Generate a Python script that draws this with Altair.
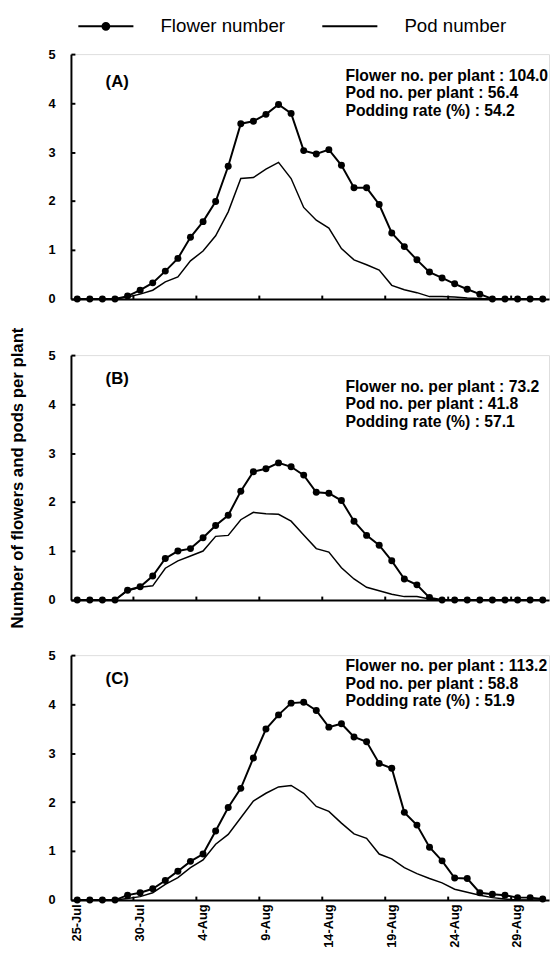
import altair as alt
import pandas as pd

FONT = "Liberation Sans"

dates = ["25-Jul", "26-Jul", "27-Jul", "28-Jul", "29-Jul", "30-Jul", "31-Jul",
         "1-Aug", "2-Aug", "3-Aug", "4-Aug", "5-Aug", "6-Aug", "7-Aug", "8-Aug",
         "9-Aug", "10-Aug", "11-Aug", "12-Aug", "13-Aug", "14-Aug", "15-Aug",
         "16-Aug", "17-Aug", "18-Aug", "19-Aug", "20-Aug", "21-Aug", "22-Aug",
         "23-Aug", "24-Aug", "25-Aug", "26-Aug", "27-Aug", "28-Aug", "29-Aug",
         "30-Aug", "31-Aug"]

x_label_values = ["25-Jul", "30-Jul", "4-Aug", "9-Aug", "14-Aug", "19-Aug", "24-Aug", "29-Aug"]
x_tick_values = ["30-Jul", "4-Aug", "9-Aug", "14-Aug", "19-Aug", "24-Aug", "29-Aug"]
y_values = [0, 1, 2, 3, 4, 5]

flower_A = [0, 0, 0, 0, 0.06, 0.18, 0.33, 0.57, 0.83, 1.26, 1.58, 1.99, 2.71, 3.58, 3.63, 3.77,
            3.97, 3.79, 3.03, 2.96, 3.05, 2.73, 2.27, 2.27, 1.93, 1.35, 1.07, 0.80, 0.55, 0.43,
            0.31, 0.20, 0.10, 0, 0, 0, 0, 0]
pod_A = [0, 0, 0, 0, 0.04, 0.10, 0.18, 0.35, 0.45, 0.78, 0.98, 1.29, 1.78, 2.46, 2.48, 2.65,
         2.79, 2.46, 1.87, 1.61, 1.45, 1.03, 0.80, 0.70, 0.59, 0.28, 0.19, 0.13, 0.05, 0.05,
         0.04, 0.02, 0.01, 0, 0, 0, 0, 0]

flower_B = [0, 0, 0, 0, 0.20, 0.27, 0.49, 0.85, 1.00, 1.05, 1.27, 1.52, 1.73, 2.22, 2.62, 2.68,
            2.80, 2.72, 2.55, 2.20, 2.18, 2.03, 1.61, 1.32, 1.12, 0.80, 0.43, 0.31, 0.05,
            0, 0, 0, 0, 0, 0, 0, 0, 0]
pod_B = [0, 0, 0, 0, 0.19, 0.26, 0.29, 0.65, 0.80, 0.90, 1.00, 1.30, 1.32, 1.64, 1.79, 1.76,
         1.75, 1.61, 1.33, 1.05, 0.98, 0.66, 0.43, 0.26, 0.19, 0.12, 0.07, 0.07, 0.02,
         0, 0, 0, 0, 0, 0, 0, 0, 0]

flower_C = [0, 0, 0, 0, 0.10, 0.15, 0.23, 0.40, 0.59, 0.79, 0.94, 1.41, 1.89, 2.28, 2.90, 3.49,
            3.78, 4.02, 4.04, 3.87, 3.53, 3.60, 3.33, 3.23, 2.79, 2.69, 1.79, 1.53, 1.08, 0.80,
            0.45, 0.44, 0.15, 0.12, 0.10, 0.05, 0.05, 0.02]
pod_C = [0, 0, 0, 0, 0.03, 0.07, 0.15, 0.32, 0.46, 0.66, 0.82, 1.14, 1.34, 1.68, 2.02, 2.18,
         2.31, 2.34, 2.18, 1.91, 1.81, 1.57, 1.35, 1.26, 0.94, 0.84, 0.66, 0.54, 0.44, 0.35,
         0.22, 0.16, 0.10, 0.05, 0.02, 0, 0, 0]

flowers = [flower_A, flower_B, flower_C]
pods = [pod_A, pod_B, pod_C]

panel_labels = ["(A)", "(B)", "(C)"]
stats = [
    ["Flower no. per plant : 104.0", "Pod no. per plant : 56.4", "Podding rate (%) : 54.2"],
    ["Flower no. per plant : 73.2", "Pod no. per plant : 41.8", "Podding rate (%) : 57.1"],
    ["Flower no. per plant : 113.2", "Pod no. per plant : 58.8", "Podding rate (%) : 51.9"],
]
series_names = ["Flower number", "Pod number"]
y_title = "Number of flowers and pods per plant"

W = 486
H = 249
stats_y = [22, 32, 11]
label_y = [28, 24, 24]

# legend glyphs: a line with a solid dot (built from concentric stroked rings), and a plain line
flower_path = ("M-7,0L7,0"
               "M0.875,0A0.875,0.875,0,1,0,-0.875,0A0.875,0.875,0,1,0,0.875,0"
               "M0.5,0A0.5,0.5,0,1,0,-0.5,0A0.5,0.5,0,1,0,0.5,0"
               "M0.19,0A0.19,0.19,0,1,0,-0.19,0A0.19,0.19,0,1,0,0.19,0")
pod_path = "M-7,0L7,0"


def panel(i, show_xlabels, with_title, with_legend):
    df = pd.DataFrame({"date": dates, "flower": flowers[i], "pod": pods[i]})
    base = alt.Chart(df)
    xscale = alt.Scale(type="band", domain=dates, paddingInner=0, paddingOuter=0)
    yscale = alt.Scale(domain=[0, 5], nice=False)

    x_lab_kw = dict(values=x_label_values, ticks=False, labels=show_xlabels,
                    domain=True, domainColor="black", domainWidth=2, grid=False,
                    orient="bottom", title=None)
    if show_xlabels:
        x_lab_kw.update(labelAngle=-90, labelFontSize=13, labelFontWeight="bold",
                        labelFont=FONT, labelColor="black", labelPadding=4)
    x_lab_axis = alt.Axis(**x_lab_kw)
    x_tick_axis = alt.Axis(values=x_tick_values, bandPosition=0, labels=False, domain=False,
                           ticks=True, tickSize=4, tickWidth=2, tickColor="black",
                           offset=-4, grid=False, orient="bottom", title=None)

    y_lab_kw = dict(values=y_values, ticks=False, labelFontSize=13, labelFontWeight="bold",
                    labelFont=FONT, labelColor="black", labelPadding=16,
                    domainColor="black", domainWidth=2, grid=False, orient="left")
    if with_title:
        y_lab_kw.update(title=y_title, titleFontSize=17, titleFontWeight="bold",
                        titleFont=FONT, titleColor="black", titlePadding=22)
    else:
        y_lab_kw.update(title=None)
    y_lab_axis = alt.Axis(**y_lab_kw)
    y_tick_axis = alt.Axis(values=y_values, labels=False, domain=False, ticks=True,
                           tickSize=4, tickWidth=2, tickColor="black", offset=-4,
                           grid=False, orient="left", title=None)

    pod = base.mark_line(color="black", strokeWidth=1.5).encode(
        x=alt.X("date:N", scale=xscale, axis=x_lab_axis, bandPosition=0.5),
        y=alt.Y("pod:Q", scale=yscale, axis=y_lab_axis),
    )
    flower = base.mark_line(
        color="black", strokeWidth=2,
        point=alt.OverlayMarkDef(filled=True, color="black", size=50, opacity=1),
    ).encode(
        x=alt.X("date:N", scale=xscale, axis=x_tick_axis, bandPosition=0.5),
        y=alt.Y("flower:Q", scale=yscale, axis=y_tick_axis),
    )

    lab = alt.Chart(pd.DataFrame({"label": [panel_labels[i]]})).mark_text(
        font=FONT, fontSize=17, fontWeight="bold", color="black",
        align="center", baseline="middle",
    ).encode(text="label:N", x=alt.value(47), y=alt.value(label_y[i]))

    st = alt.Chart(pd.DataFrame({"k": [0]})).mark_text(
        font=FONT, fontSize=16, fontWeight="bold", color="black",
        align="left", baseline="middle", lineHeight=18,
    ).encode(text=alt.value(stats[i]), x=alt.value(279), y=alt.value(stats_y[i]))

    layers = [pod, flower, lab, st]
    if with_legend:
        leg = alt.Chart(pd.DataFrame({"series": series_names})).mark_point(
            filled=False, opacity=0, size=64, color="black", strokeWidth=2,
        ).encode(
            shape=alt.Shape(
                "series:N",
                scale=alt.Scale(domain=series_names, range=[flower_path, pod_path]),
                legend=alt.Legend(
                    title=None, orient="none", legendX=26, legendY=-38,
                    direction="horizontal", symbolSize=64, symbolStrokeWidth=2,
                    symbolStrokeColor="black", symbolOpacity=1,
                    labelFontSize=19, labelFont=FONT, labelColor="black",
                    labelOffset=46, columnPadding=33, padding=0,
                ),
            )
        )
        layers.append(leg)

    return alt.layer(*layers).resolve_axis(x="independent", y="independent").properties(
        width=W, height=H
    )


chart = alt.vconcat(
    panel(0, False, False, True),
    panel(1, False, True, False),
    panel(2, True, False, False),
    spacing=19,
).resolve_legend(shape="independent").properties(
    padding={"left": 0, "top": 0, "right": 0, "bottom": 0}
).configure_view(stroke=None).configure(font=FONT)

chart.save("out.html", embed_options={"renderer": "svg", "actions": False})
